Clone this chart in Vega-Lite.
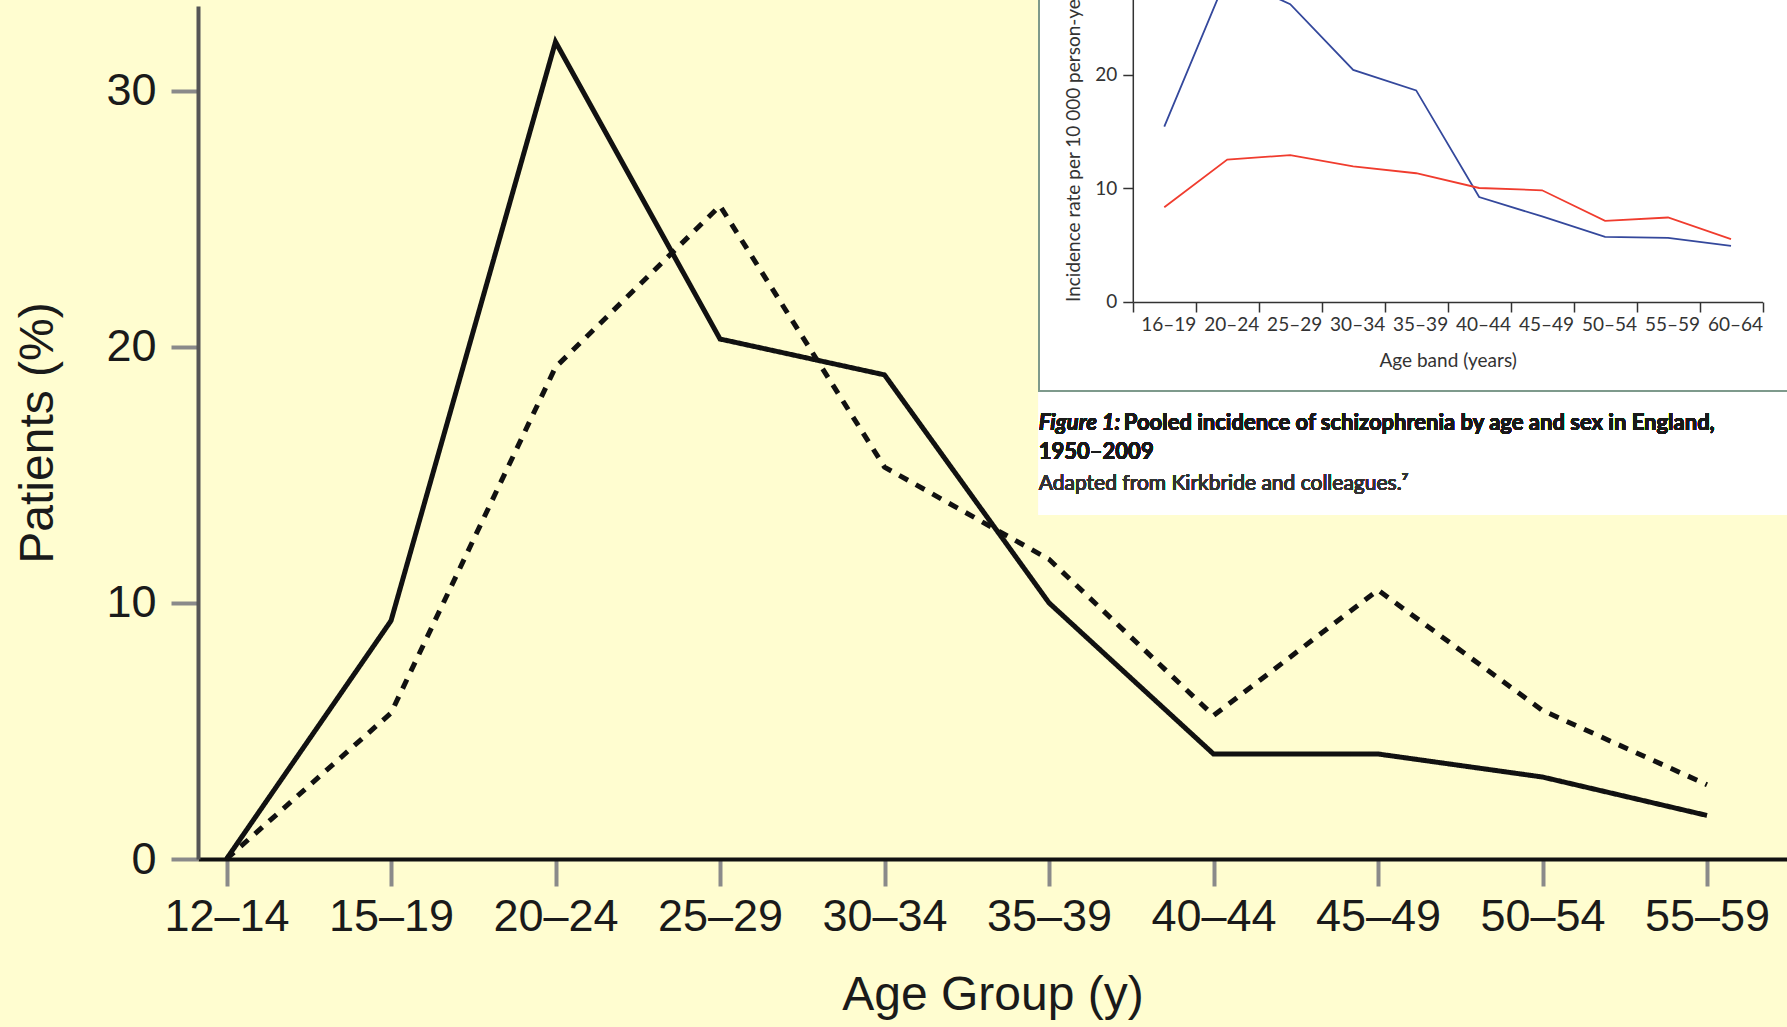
{
  "$schema": "https://vega.github.io/schema/vega-lite/v6.json",
  "width": 1589,
  "height": 853,
  "autosize": {"type": "none"},
  "padding": {"left": 198, "top": 6, "right": 0, "bottom": 168},
  "background": "#fffdd0",
  "config": {"view": {"stroke": null}, "font": "Liberation Sans"},
  "layer": [
    {
      "data": {
        "values": [
          {"age": "12–14", "sex": "Men", "pct": 0},
          {"age": "15–19", "sex": "Men", "pct": 9.3},
          {"age": "20–24", "sex": "Men", "pct": 31.9},
          {"age": "25–29", "sex": "Men", "pct": 20.3},
          {"age": "30–34", "sex": "Men", "pct": 18.9},
          {"age": "35–39", "sex": "Men", "pct": 10.0},
          {"age": "40–44", "sex": "Men", "pct": 4.1},
          {"age": "45–49", "sex": "Men", "pct": 4.1},
          {"age": "50–54", "sex": "Men", "pct": 3.2},
          {"age": "55–59", "sex": "Men", "pct": 1.7},
          {"age": "12–14", "sex": "Women", "pct": 0},
          {"age": "15–19", "sex": "Women", "pct": 5.7},
          {"age": "20–24", "sex": "Women", "pct": 19.2},
          {"age": "25–29", "sex": "Women", "pct": 25.5},
          {"age": "30–34", "sex": "Women", "pct": 15.3},
          {"age": "35–39", "sex": "Women", "pct": 11.7},
          {"age": "40–44", "sex": "Women", "pct": 5.6},
          {"age": "45–49", "sex": "Women", "pct": 10.5},
          {"age": "50–54", "sex": "Women", "pct": 5.8},
          {"age": "55–59", "sex": "Women", "pct": 2.9}
        ]
      },
      "mark": {"type": "line", "color": "#111111", "strokeWidth": 5},
      "encoding": {
        "x": {
          "field": "age", "type": "ordinal", "sort": null,
          "scale": {"type": "point", "padding": 0.3298, "align": 0.2627},
          "axis": {
            "labelAngle": 0, "labelFont": "Liberation Sans", "labelFontSize": 45, "labelColor": "#1a1a1a", "labelPadding": 8,
            "tickSize": 27, "tickWidth": 4, "tickColor": "#8a8a8a",
            "domainColor": "#111111", "domainWidth": 4, "grid": false,
            "title": "Age Group (y)", "titleFont": "Liberation Sans", "titleFontSize": 48, "titleFontWeight": "normal", "titleColor": "#1a1a1a", "titlePadding": 32
          }
        },
        "y": {
          "field": "pct", "type": "quantitative",
          "scale": {"domain": [0, 33.3], "nice": false, "zero": false},
          "axis": {
            "values": [0, 10, 20, 30], "labelFont": "Liberation Sans", "labelFontSize": 45, "labelColor": "#1a1a1a", "labelPadding": 15,
            "tickSize": 27, "tickWidth": 4, "tickColor": "#8a8a8a",
            "domainColor": "#555555", "domainWidth": 4, "grid": false,
            "title": "Patients (%)", "titleFont": "Liberation Sans", "titleFontSize": 48, "titleFontWeight": "normal", "titleColor": "#1a1a1a", "titlePadding": 43
          }
        },
        "strokeDash": {
          "field": "sex", "type": "nominal",
          "scale": {"domain": ["Men", "Women"], "range": [[1, 0], [10, 9]]},
          "legend": null
        }
      }
    },
    {
      "data": {
        "values": [
          {"band": "16–19", "sex": "Men", "rate": 15.4},
          {"band": "20–24", "sex": "Men", "rate": 28.7},
          {"band": "25–29", "sex": "Men", "rate": 26.2},
          {"band": "30–34", "sex": "Men", "rate": 20.4},
          {"band": "35–39", "sex": "Men", "rate": 18.6},
          {"band": "40–44", "sex": "Men", "rate": 9.2},
          {"band": "45–49", "sex": "Men", "rate": 7.5},
          {"band": "50–54", "sex": "Men", "rate": 5.7},
          {"band": "55–59", "sex": "Men", "rate": 5.6},
          {"band": "60–64", "sex": "Men", "rate": 4.9},
          {"band": "16–19", "sex": "Women", "rate": 8.3},
          {"band": "20–24", "sex": "Women", "rate": 12.5},
          {"band": "25–29", "sex": "Women", "rate": 12.9},
          {"band": "30–34", "sex": "Women", "rate": 11.9},
          {"band": "35–39", "sex": "Women", "rate": 11.3},
          {"band": "40–44", "sex": "Women", "rate": 10.0},
          {"band": "45–49", "sex": "Women", "rate": 9.8},
          {"band": "50–54", "sex": "Women", "rate": 7.1},
          {"band": "55–59", "sex": "Women", "rate": 7.4},
          {"band": "60–64", "sex": "Women", "rate": 5.5}
        ]
      },
      "layer": [
        {
          "mark": {"type": "rect", "fill": "#ffffff", "xOffset": -94, "x2Offset": 160},
          "encoding": {
            "x": {"datum": "16–19", "type": "ordinal", "bandPosition": 0},
            "x2": {"datum": "60–64"},
            "y": {"datum": 28, "type": "quantitative"},
            "y2": {"datum": -18.8}
          }
        },
        {
          "mark": {"type": "rect", "fillOpacity": 0, "stroke": "#7f9a8c", "strokeWidth": 1.5, "xOffset": -94, "x2Offset": 83.5},
          "encoding": {
            "x": {"datum": "16–19", "type": "ordinal", "bandPosition": 0},
            "x2": {"datum": "60–64"},
            "y": {"datum": 28, "type": "quantitative"},
            "y2": {"datum": -7.89}
          }
        },
        {
          "mark": {"type": "line", "strokeWidth": 1.8},
          "encoding": {
            "x": {
              "field": "band", "type": "ordinal", "sort": null, "bandPosition": 0.5,
              "scale": {
                "type": "band",
                "domain": ["16–19", "20–24", "25–29", "30–34", "35–39", "40–44", "45–49", "50–54", "55–59", "60–64"],
                "range": [934.8, 1564.5], "paddingInner": 0, "paddingOuter": 0
              },
              "axis": {
                "orient": "bottom", "offset": -557, "zindex": 1, "tickBand": "extent", "labelOffset": 31.5,
                "labelAngle": 0, "labelFont": "Lato", "labelFontSize": 19, "labelColor": "#333333", "labelPadding": 12,
                "tickSize": 10, "tickWidth": 1.5, "tickColor": "#333333",
                "domainColor": "#333333", "domainWidth": 1.5, "grid": false,
                "title": "Age band (years)", "titleFont": "Lato", "titleFontSize": 19, "titleFontWeight": "normal", "titleColor": "#333333", "titlePadding": 17
              }
            },
            "y": {
              "field": "rate", "type": "quantitative",
              "scale": {"domain": [0, 27], "range": [295.5, -10.95], "nice": false, "zero": false},
              "axis": {
                "orient": "left", "offset": -934.8, "zindex": 1, "values": [0, 10, 20],
                "labelFont": "Lato", "labelFontSize": 19, "labelColor": "#333333", "labelPadding": 6,
                "tickSize": 10, "tickWidth": 1.5, "tickColor": "#333333",
                "domainColor": "#333333", "domainWidth": 1.5, "grid": false,
                "title": "Incidence rate per 10 000 person-years", "titleAnchor": "start",
                "titleFont": "Lato", "titleFontSize": 19, "titleFontWeight": "normal", "titleColor": "#333333", "titlePadding": 11
              }
            },
            "color": {
              "field": "sex", "type": "nominal",
              "scale": {"domain": ["Men", "Women"], "range": ["#34489c", "#f03c2e"]},
              "legend": null
            }
          }
        },
        {
          "mark": {"type": "text", "text": "Figure 1:", "font": "Lato", "fontSize": 22, "fontWeight": "bold", "fontStyle": "italic", "align": "left", "baseline": "alphabetic", "color": "#1a1a1a", "dx": -94},
          "encoding": {
            "x": {"datum": "16–19", "type": "ordinal", "bandPosition": 0},
            "y": {"datum": -11.29, "type": "quantitative"}
          }
        },
        {
          "mark": {"type": "text", "text": "Pooled incidence of schizophrenia by age and sex in England,", "font": "Lato", "fontSize": 22, "fontWeight": "bold", "align": "left", "baseline": "alphabetic", "color": "#1a1a1a", "dx": -9},
          "encoding": {
            "x": {"datum": "16–19", "type": "ordinal", "bandPosition": 0},
            "y": {"datum": -11.29, "type": "quantitative"}
          }
        },
        {
          "mark": {"type": "text", "text": "1950–2009", "font": "Lato", "fontSize": 22, "fontWeight": "bold", "align": "left", "baseline": "alphabetic", "color": "#1a1a1a", "dx": -94},
          "encoding": {
            "x": {"datum": "16–19", "type": "ordinal", "bandPosition": 0},
            "y": {"datum": -13.88, "type": "quantitative"}
          }
        },
        {
          "mark": {"type": "text", "text": "Adapted from Kirkbride and colleagues.⁷", "font": "Lato", "fontSize": 21, "fontWeight": "normal", "align": "left", "baseline": "alphabetic", "color": "#333333", "dx": -94},
          "encoding": {
            "x": {"datum": "16–19", "type": "ordinal", "bandPosition": 0},
            "y": {"datum": -16.61, "type": "quantitative"}
          }
        }
      ]
    }
  ],
  "resolve": {
    "scale": {"x": "independent", "y": "independent"},
    "axis": {"x": "independent", "y": "independent"}
  }
}
